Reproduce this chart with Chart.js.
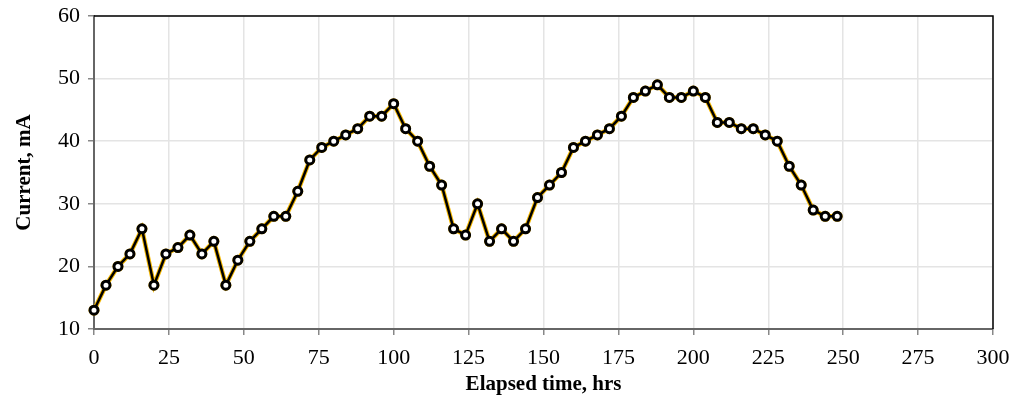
<!DOCTYPE html>
<html lang="en">
<head>
    <meta charset="UTF-8">
    <title>Current vs Elapsed time</title>
    <script src="https://cdn.jsdelivr.net/npm/chart.js@4.4.1/dist/chart.umd.min.js"></script>
</head>
<style>
    html, body { margin: 0; padding: 0; background: #fff; }
    #wrap { width: 1017px; height: 407px; }
</style>
<body>
    <div id="wrap"><canvas id="plotCanvas"></canvas></div>
    <script>
        // elapsed time (hrs) and current (mA)
        const hours = [0, 4, 8, 12, 16, 20, 24, 28, 32, 36, 40, 44, 48, 52, 56, 60, 64, 68, 72, 76,
            80, 84, 88, 92, 96, 100, 104, 108, 112, 116, 120, 124, 128, 132, 136, 140, 144, 148, 152, 156,
            160, 164, 168, 172, 176, 180, 184, 188, 192, 196, 200, 204, 208, 212, 216, 220, 224, 228, 232, 236,
            240, 244, 248];
        const current = [13, 17, 20, 22, 26, 17, 22, 23, 25, 22, 24, 17, 21, 24, 26, 28, 28, 32, 37, 39,
            40, 41, 42, 44, 44, 46, 42, 40, 36, 33, 26, 25, 30, 24, 26, 24, 26, 31, 33, 35,
            39, 40, 41, 42, 44, 47, 48, 49, 47, 47, 48, 47, 43, 43, 42, 42, 41, 40, 36, 33,
            29, 28, 28];
        const xTitle = 'Elapsed time, hrs';
        const yTitle = 'Current, mA';

        const points = hours.map((h, i) => ({ x: h, y: current[i] }));
        const font = 'Liberation Serif';

        const frame = {
            id: 'frame',
            afterDatasetsDraw(chart) {
                const a = chart.chartArea, c = chart.ctx;
                c.save();
                c.strokeStyle = '#000';
                c.lineWidth = 1.5;
                c.beginPath();
                c.moveTo(a.left, a.top);
                c.lineTo(a.right, a.top);
                c.lineTo(a.right, a.bottom);
                c.stroke();
                c.restore();
            }
        };

        new Chart(document.getElementById('plotCanvas'), {
            type: 'scatter',
            data: {
                datasets: [{
                    data: points,
                    showLine: true,
                    clip: false,
                    borderColor: '#000',
                    borderWidth: 2.5,
                    pointRadius: 4,
                    pointBorderWidth: 3,
                    pointBackgroundColor: '#fff',
                    pointBorderColor: '#000',
                    order: 0
                }, {
                    data: points,
                    showLine: true,
                    clip: false,
                    borderColor: '#f5b800',
                    borderWidth: 4.5,
                    pointRadius: 5.5,
                    pointBorderWidth: 0,
                    pointBackgroundColor: '#f5b800',
                    order: 1
                }]
            },
            options: {
                responsive: true,
                maintainAspectRatio: false,
                animation: false,
                layout: { padding: { top: 16, right: 24, left: 0, bottom: 0 } },
                plugins: { legend: { display: false }, tooltip: { enabled: false } },
                scales: {
                    x: {
                        type: 'linear', min: 0, max: 300,
                        ticks: { stepSize: 25, color: '#000', padding: 10, font: { family: font, size: 22 } },
                        grid: { color: '#e4e4e4', lineWidth: 1.5, tickLength: 6, tickColor: '#888' },
                        border: { color: '#666', width: 2 },
                        title: { display: true, text: xTitle, color: '#000', padding: { top: 0, bottom: 10 },
                            font: { family: font, size: 21, weight: 'bold' } },
                        afterFit(s) { s.height = 78; s.paddingRight = 0; s.paddingLeft = 0; }
                    },
                    y: {
                        min: 10, max: 60,
                        ticks: { stepSize: 10, color: '#000', padding: 8, font: { family: font, size: 22 } },
                        grid: { color: '#e4e4e4', lineWidth: 1.5, tickLength: 6, tickColor: '#888' },
                        border: { color: '#666', width: 2 },
                        title: { display: true, text: yTitle, color: '#000', padding: { top: 12, bottom: 0 },
                            font: { family: font, size: 21, weight: 'bold' } },
                        afterFit(s) { s.width = 94; s.paddingTop = 0; s.paddingBottom = 0; }
                    }
                }
            },
            plugins: [frame]
        });
    </script>
</body>
</html>
